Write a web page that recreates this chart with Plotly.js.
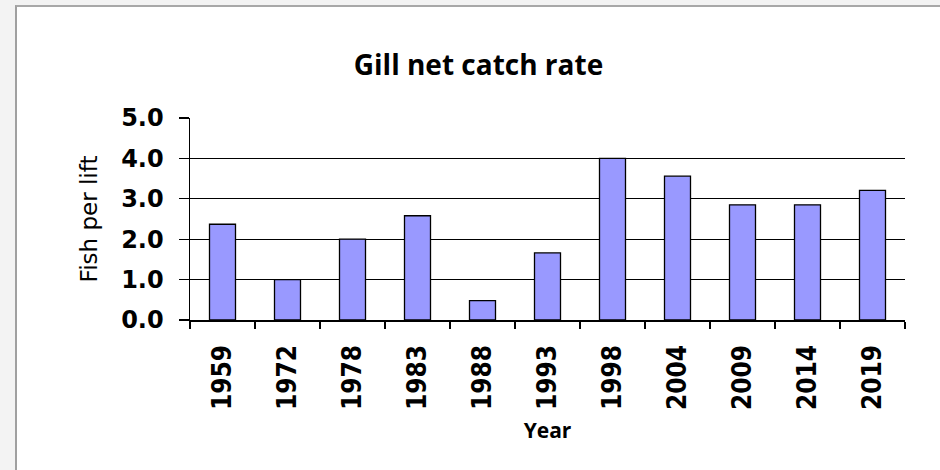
<!DOCTYPE html>
<html>
<head>
<meta charset="utf-8">
<script src="https://cdn.plot.ly/plotly-3.0.1.min.js"></script>
<style>
  html, body { margin: 0; padding: 0; width: 940px; height: 470px; overflow: hidden; background: #f3f3f3; }
  #frame { position: absolute; left: 15px; top: 5px; width: 925px; height: 465px; background: #ffffff;
           border-left: 2px solid #a0a0a0; border-top: 2px solid #a8a8a8; box-sizing: border-box; }
  #chart { position: absolute; left: 0; top: 0; width: 923px; height: 463px; }
</style>
</head>
<body>
<div id="frame"><div id="chart"></div></div>
<script>
const years = ["1959", "1972", "1978", "1983", "1988", "1993", "1998", "2004", "2009", "2014", "2019"];
const fishPerLift = [2.37, 1.0, 2.0, 2.58, 0.48, 1.66, 4.0, 3.56, 2.85, 2.85, 3.21];
const yTicks = [0, 1, 2, 3, 4, 5];

const trace = {
  type: "bar",
  x: years,
  y: fishPerLift,
  marker: { color: "#9999ff", line: { color: "#000000", width: 1.3 } },
  hoverinfo: "x+y"
};

const layout = {
  width: 923, height: 463,
  margin: { l: 173, r: 35, t: 111, b: 150 },
  paper_bgcolor: "#ffffff",
  plot_bgcolor: "#ffffff",
  showlegend: false,
  bargap: 0.6,
  title: {
    text: "Gill net catch rate",
    font: { family: "Open Sans, DejaVu Sans, sans-serif", size: 28, color: "#000000", weight: 700 },
    x: 0.5, xanchor: "center", xref: "container",
    y: 0.875, yanchor: "middle", yref: "container"
  },
  xaxis: {
    type: "category",
    tickangle: -90,
    ticks: "outside", tickson: "boundaries", ticklen: 7, tickwidth: 1.3, tickcolor: "#000000",
    ticklabelstandoff: 13,
    tickfont: { family: "DejaVu Sans Condensed, DejaVu Sans, sans-serif", size: 26, color: "#000000", weight: 700 },
    showline: true, linecolor: "#000000", linewidth: 1.5,
    showgrid: false,
    title: { text: "Year", font: { family: "Open Sans, DejaVu Sans, sans-serif", size: 21, color: "#000000", weight: 700 }, standoff: 14 }
  },
  yaxis: {
    range: [0, 5],
    tickvals: yTicks,
    tickformat: ".1f",
    ticks: "outside", ticklen: 10, tickwidth: 1.3, tickcolor: "#000000",
    ticklabelstandoff: 10,
    tickfont: { family: "DejaVu Sans, sans-serif", size: 24, color: "#000000", weight: 700 },
    showline: true, linecolor: "#000000", linewidth: 1.5,
    showgrid: true, gridcolor: "#000000", gridwidth: 1.3,
    zeroline: false,
    title: { text: "Fish per lift", font: { family: "DejaVu Sans, sans-serif", size: 23, color: "#000000" }, standoff: 17 }
  }
};

Plotly.newPlot("chart", [trace], layout, { displayModeBar: false, staticPlot: true });
</script>
</body>
</html>
